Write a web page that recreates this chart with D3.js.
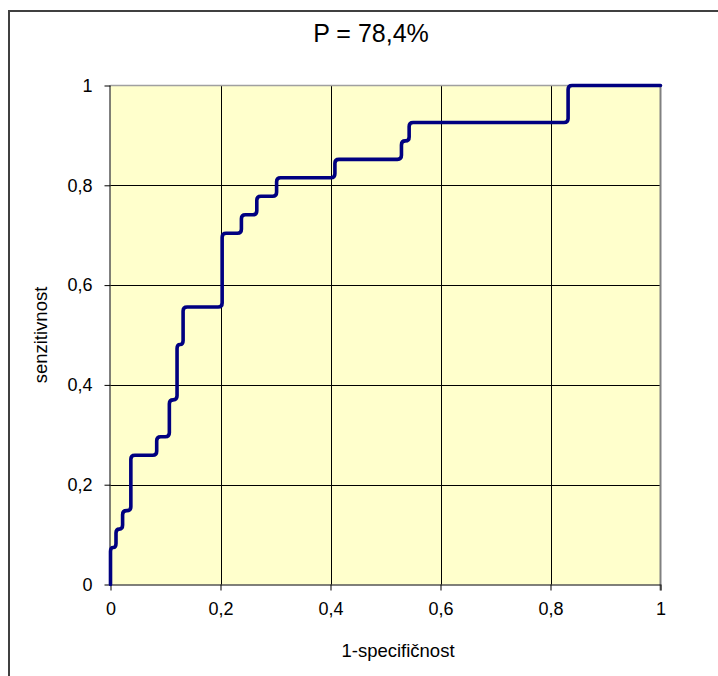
<!DOCTYPE html>
<html>
<head>
<meta charset="utf-8">
<script src="https://cdn.jsdelivr.net/npm/d3@7"></script>
<style>
  html, body { margin: 0; padding: 0; background: #fff; }
  svg { display: block; font-family: Arial, "Liberation Sans", sans-serif; }
</style>
</head>
<body>
<svg id="chart" width="718" height="676"></svg>
<script>
// ---- data ----
const title = "P = 78,4%";
const xTitle = "1-specifičnost";
const yTitle = "senzitivnost";
const fpr = [0, 0, 0.010, 0.010, 0.022, 0.022, 0.037, 0.037, 0.084, 0.084, 0.107, 0.107,
             0.121, 0.121, 0.132, 0.132, 0.203, 0.203, 0.238, 0.238, 0.266, 0.266,
             0.302, 0.302, 0.408, 0.408, 0.529, 0.529, 0.543, 0.543, 0.832, 0.832, 1];
const tpr = [0, 0.074, 0.074, 0.111, 0.111, 0.148, 0.148, 0.259, 0.259, 0.296, 0.296, 0.370,
             0.370, 0.481, 0.481, 0.556, 0.556, 0.704, 0.704, 0.741, 0.741, 0.778, 0.778,
             0.815, 0.815, 0.852, 0.852, 0.889, 0.889, 0.926, 0.926, 1, 1];
const xTicks = [0, 0.2, 0.4, 0.6, 0.8, 1];
const yTicks = [0, 0.2, 0.4, 0.6, 0.8, 1];
const xTickLabels = ["0", "0,2", "0,4", "0,6", "0,8", "1"];
const yTickLabels = ["0", "0,2", "0,4", "0,6", "0,8", "1"];

// ---- layout ----
const svg = d3.select("#chart");
const L = 110.5, R = 660.5, T = 85.5, B = 584.5;
const x = d3.scaleLinear().domain([0, 1]).range([L, R]);
const y = d3.scaleLinear().domain([0, 1]).range([B, T]);
const FONT = "Arial, 'Liberation Sans', sans-serif";

// outer chart border
svg.append("rect").attr("x", 9).attr("y", 11).attr("width", 720).attr("height", 680)
  .attr("fill", "#fff").attr("stroke", "#404040").attr("stroke-width", 2);

// plot background
svg.append("rect").attr("x", L).attr("y", T).attr("width", R - L).attr("height", B - T)
  .attr("fill", "#FFFFCC");

// gridlines
svg.append("g").selectAll("line").data(xTicks.filter(d => d > 0 && d < 1)).join("line")
  .attr("x1", d => Math.round(x(d)) + 0.5).attr("x2", d => Math.round(x(d)) + 0.5)
  .attr("y1", T).attr("y2", B).attr("stroke", "#000").attr("stroke-width", 1);
svg.append("g").selectAll("line").data(yTicks.filter(d => d > 0 && d < 1)).join("line")
  .attr("y1", d => Math.round(y(d)) + 0.5).attr("y2", d => Math.round(y(d)) + 0.5)
  .attr("x1", L).attr("x2", R).attr("stroke", "#000").attr("stroke-width", 1);

// plot border top/right (gray)
svg.append("line").attr("x1", L).attr("x2", R).attr("y1", T).attr("y2", T)
  .attr("stroke", "#a0a0a0").attr("stroke-width", 1.5);
svg.append("line").attr("x1", R).attr("x2", R).attr("y1", T).attr("y2", B + 6)
  .attr("stroke", "#808080").attr("stroke-width", 2);

// axes
const xAxis = d3.axisBottom(x).tickValues(xTicks).tickSize(6).tickPadding(12)
  .tickFormat((d, i) => xTickLabels[i]);
const yAxis = d3.axisLeft(y).tickValues(yTicks).tickSize(6).tickPadding(12)
  .tickFormat((d, i) => yTickLabels[i]);

const gx = svg.append("g").attr("transform", `translate(0,${B})`).call(xAxis);
const gy = svg.append("g").attr("transform", `translate(${L},0)`).call(yAxis);
[gx, gy].forEach(g => {
  g.select(".domain").attr("stroke", "#000").attr("stroke-width", 1);
  g.selectAll(".tick line").attr("stroke", "#000");
  g.selectAll(".tick text").attr("fill", "#000").attr("font-size", 18)
    .attr("font-family", FONT);
});
gx.select(".domain").attr("d", `M${L},0.5H${R}`);
gy.select(".domain").attr("d", `M-0.5,${B}V${T}`);

// ROC line: step corners joined by straight segments with small rounded corners
function roundedCurve(context) {
  const pts = [];
  return {
    lineStart() { pts.length = 0; },
    point(px, py) { pts.push([px, py]); },
    lineEnd() {
      const r = 4;
      if (!pts.length) return;
      context.moveTo(pts[0][0], pts[0][1]);
      for (let i = 1; i < pts.length - 1; i++) {
        const [ax, ay] = pts[i - 1], [bx, by] = pts[i], [cx, cy] = pts[i + 1];
        const d1 = Math.hypot(bx - ax, by - ay), d2 = Math.hypot(cx - bx, cy - by);
        const r1 = Math.min(r, d1 / 2), r2 = Math.min(r, d2 / 2);
        if (d1 === 0 || d2 === 0) { context.lineTo(bx, by); continue; }
        context.lineTo(bx - (bx - ax) / d1 * r1, by - (by - ay) / d1 * r1);
        context.quadraticCurveTo(bx, by, bx + (cx - bx) / d2 * r2, by + (cy - by) / d2 * r2);
      }
      const last = pts[pts.length - 1];
      context.lineTo(last[0], last[1]);
    },
    areaStart() {}, areaEnd() {}
  };
}
const pts = fpr.map((v, i) => [v, tpr[i]]);
const line = d3.line().x(d => x(d[0])).y(d => y(d[1])).curve(roundedCurve);
svg.append("path").datum(pts).attr("d", line)
  .attr("fill", "none").attr("stroke", "#000080").attr("stroke-width", 3.6)
  .attr("stroke-linejoin", "round").attr("stroke-linecap", "round");

// titles
svg.append("text").attr("x", 371).attr("y", 42).attr("text-anchor", "middle")
  .attr("font-family", FONT).attr("font-size", 25).attr("fill", "#000").text(title);
svg.append("text").attr("x", 398).attr("y", 657).attr("text-anchor", "middle")
  .attr("font-family", FONT).attr("font-size", 18.5).attr("fill", "#000").text(xTitle);
svg.append("text").attr("transform", `translate(47,${(T + B) / 2}) rotate(-90)`)
  .attr("text-anchor", "middle").attr("font-family", FONT).attr("font-size", 18.5)
  .attr("fill", "#000").text(yTitle);
</script>
</body>
</html>
